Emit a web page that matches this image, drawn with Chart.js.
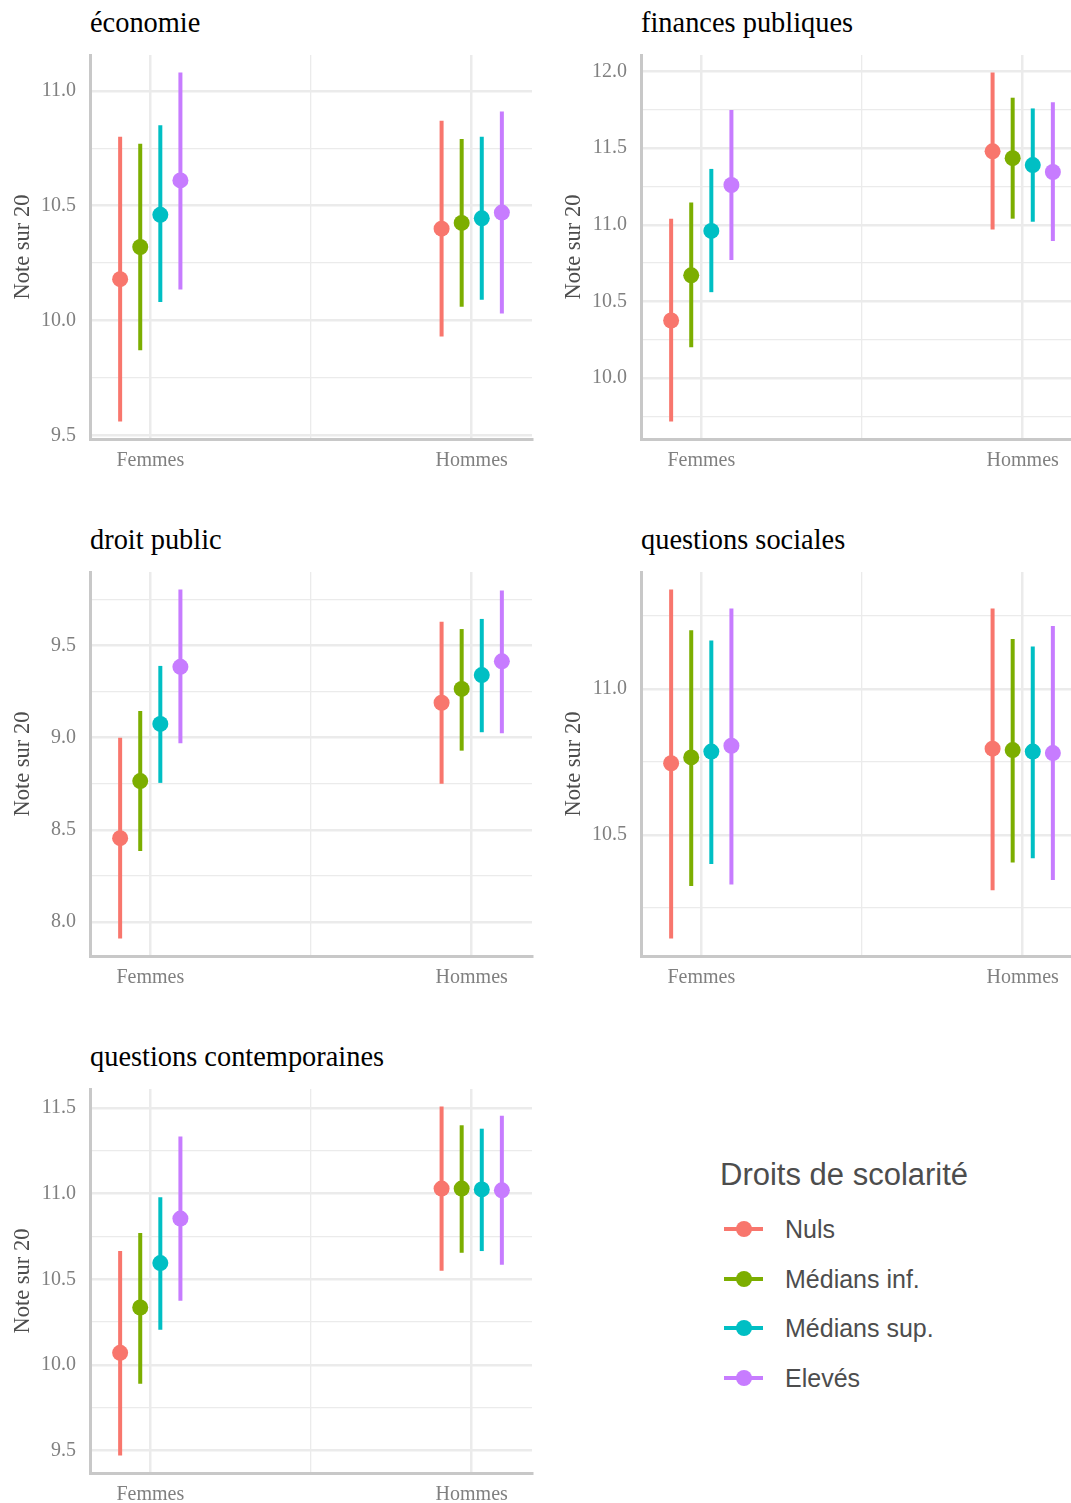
<!DOCTYPE html>
<html lang="fr">
<head>
<meta charset="utf-8">
<script src="https://cdn.jsdelivr.net/npm/chart.js@4.4.0/dist/chart.umd.min.js"></script>
<style>
  html, body { margin: 0; padding: 0; width: 1071px; height: 1503px; overflow: hidden; background: #fff; }
  .panneau { position: absolute; }
  .titre {
    position: absolute; font-family: 'Liberation Serif', 'Times New Roman', serif;
    font-size: 28.4px; line-height: 28px; color: #000; white-space: nowrap;
  }
  #legende { position: absolute; left: 0; top: 0; font-family: 'Liberation Sans', Arial, sans-serif; color: #4d4d4d; }
  #legende .leg-titre { position: absolute; left: 720px; top: 1160px; font-size: 31px; line-height: 30px; white-space: nowrap; }
  #legende .item { position: absolute; left: 724px; height: 32px; width: 300px; }
  #legende .trait { position: absolute; left: 0; top: 14px; width: 39px; height: 4px; }
  #legende .rond { position: absolute; left: 11.5px; top: 8px; width: 16px; height: 16px; border-radius: 50%; }
  #legende .lib { position: absolute; left: 61px; top: 0; font-size: 25px; line-height: 32px; white-space: nowrap; }
</style>
</head>
<body>
<div id="legende"></div>
<script>
/* groupes et niveaux */
const groupes = ['Femmes', 'Hommes'];
const niveaux = ['Nuls', 'Médians inf.', 'Médians sup.', 'Elevés'];
const matieres = ['économie', 'finances publiques', 'droit public', 'questions sociales', 'questions contemporaines'];

/* valeurs : [niveau][Femmes, Hommes] */
const economieMoy  = [[10.18, 10.40], [10.32, 10.425], [10.46, 10.445], [10.61, 10.47]];
const economieBas  = [[9.56, 9.93], [9.87, 10.06], [10.08, 10.09], [10.135, 10.03]];
const economieHaut = [[10.80, 10.87], [10.77, 10.79], [10.85, 10.80], [11.08, 10.91]];

const financesMoy  = [[10.375, 11.48], [10.67, 11.435], [10.96, 11.39], [11.26, 11.345]];
const financesBas  = [[9.715, 10.97], [10.20, 11.04], [10.56, 11.02], [10.77, 10.895]];
const financesHaut = [[11.04, 11.995], [11.145, 11.83], [11.365, 11.76], [11.75, 11.80]];

const droitMoy  = [[8.455, 9.19], [8.765, 9.265], [9.075, 9.34], [9.385, 9.415]];
const droitBas  = [[7.91, 8.75], [8.385, 8.93], [8.755, 9.03], [8.97, 9.025]];
const droitHaut = [[9.00, 9.63], [9.145, 9.59], [9.39, 9.645], [9.805, 9.80]];

const socialesMoy  = [[10.745, 10.795], [10.765, 10.79], [10.785, 10.785], [10.805, 10.78]];
const socialesBas  = [[10.145, 10.31], [10.325, 10.405], [10.40, 10.42], [10.33, 10.345]];
const socialesHaut = [[11.34, 11.275], [11.20, 11.17], [11.165, 11.145], [11.275, 11.215]];

const contempMoy  = [[10.07, 11.03], [10.335, 11.03], [10.595, 11.025], [10.855, 11.02]];
const contempBas  = [[9.47, 10.55], [9.89, 10.655], [10.205, 10.665], [10.375, 10.585]];
const contempHaut = [[10.665, 11.51], [10.77, 11.40], [10.98, 11.38], [11.335, 11.455]];

const series = [
  [economieMoy, economieBas, economieHaut],
  [financesMoy, financesBas, financesHaut],
  [droitMoy, droitBas, droitHaut],
  [socialesMoy, socialesBas, socialesHaut],
  [contempMoy, contempBas, contempHaut]
];

/* style */
const couleurs = ['#F8766D', '#7CAE00', '#00BFC4', '#C77CFF'];
const serif = "'Liberation Serif', 'Times New Roman', serif";
const dodge = 0.25;                  // comme position_dodge(0.25)
const pas = dodge / niveaux.length;

/* position des panneaux (coin haut-gauche de la zone de tracé) */
const places = [
  { left: 90, top: 55 }, { left: 641, top: 55 },
  { left: 90, top: 572 }, { left: 641, top: 572 },
  { left: 90, top: 1089 }
];

/* x : étendue des points décalés + 5% */
const xBas = 1 - dodge / 2, xHaut = groupes.length + dodge / 2;
const xMin = xBas - 0.05 * (xHaut - xBas);
const xMax = xHaut + 0.05 * (xHaut - xBas);

const estMajeur = v => Math.abs(v * 2 - Math.round(v * 2)) < 1e-6;

matieres.forEach((nom, m) => {
  const [moy, bas, haut] = series[m];
  const p = places[m];

  const titre = document.createElement('div');
  titre.className = 'titre';
  titre.textContent = nom;
  titre.style.left = p.left + 'px';
  titre.style.top = (p.top - 46) + 'px';
  document.body.appendChild(titre);

  const boite = document.createElement('div');
  boite.className = 'panneau';
  boite.style.left = (p.left - 90) + 'px';
  boite.style.top = (p.top - 14) + 'px';
  const cv = document.createElement('canvas');
  cv.width = 540; cv.height = 448;
  boite.appendChild(cv);
  document.body.appendChild(boite);

  const tous = bas.flat().concat(haut.flat());
  const yMin0 = Math.min(...tous), yMax0 = Math.max(...tous);
  const marge = 0.05 * (yMax0 - yMin0);

  const datasets = [];
  niveaux.forEach((niv, k) => {
    datasets.push({
      type: 'bar',
      label: niv,
      data: groupes.map((g, i) => ({ x: i + 1 + (k - 1.5) * pas, y: [bas[k][i], haut[k][i]] })),
      backgroundColor: couleurs[k],
      borderWidth: 0,
      grouped: false,
      maxBarThickness: 4,
      order: 1
    });
  });
  niveaux.forEach((niv, k) => {
    datasets.push({
      type: 'scatter',
      label: niv,
      data: groupes.map((g, i) => ({ x: i + 1 + (k - 1.5) * pas, y: moy[k][i] })),
      pointRadius: 8,
      pointBackgroundColor: couleurs[k],
      pointBorderWidth: 0,
      showLine: false,
      order: 0
    });
  });

  new Chart(cv.getContext('2d'), {
    type: 'scatter',
    data: { datasets },
    options: {
      responsive: false,
      animation: false,
      layout: { padding: { top: 14, right: 5, left: 0, bottom: 0 } },
      plugins: { legend: { display: false }, tooltip: { enabled: false } },
      scales: {
        x: {
          type: 'linear', min: xMin, max: xMax, offset: false,
          afterBuildTicks: s => { s.ticks = [{ value: 1 }, { value: 1.5 }, { value: 2 }]; },
          afterFit: s => { s.height = 50; s.paddingLeft = 0; s.paddingRight = 0; },
          grid: { color: '#EBEBEB', offset: false, drawTicks: false, lineWidth: c => (c.tick && c.tick.value === 1.5 ? 1.3 : 2.5) },
          border: { display: true, color: '#C8C8C8', width: 3 },
          ticks: {
            padding: 10, autoSkip: false, maxRotation: 0, color: '#808080',
            font: { family: serif, size: 20 },
            callback: v => (v === 1 ? groupes[0] : v === 2 ? groupes[1] : '')
          }
        },
        y: {
          type: 'linear', min: yMin0 - marge, max: yMax0 + marge, beginAtZero: false,
          afterFit: s => { s.width = 90; s.paddingTop = 0; s.paddingBottom = 0; },
          grid: { color: '#EBEBEB', drawTicks: false, lineWidth: c => (c.tick && estMajeur(c.tick.value) ? 2.5 : 1.3) },
          border: { display: true, color: '#C8C8C8', width: 3 },
          ticks: {
            stepSize: 0.25, includeBounds: false, autoSkip: false, padding: 14, color: '#808080',
            font: { family: serif, size: 20 },
            callback: v => (estMajeur(v) ? v.toFixed(1) : '')
          },
          title: {
            display: true, text: 'Note sur 20', color: '#4d4d4d',
            font: { family: serif, size: 22.5 }, padding: { top: 10, bottom: 0 }
          }
        }
      }
    }
  });
});

/* légende */
const leg = document.getElementById('legende');
const lt = document.createElement('div');
lt.className = 'leg-titre';
lt.textContent = 'Droits de scolarité';
leg.appendChild(lt);
niveaux.forEach((niv, k) => {
  const it = document.createElement('div');
  it.className = 'item';
  it.style.top = (1229 + k * 49.5 - 16) + 'px';
  it.innerHTML = '<div class="trait"></div><div class="rond"></div><div class="lib"></div>';
  it.querySelector('.trait').style.background = couleurs[k];
  it.querySelector('.rond').style.background = couleurs[k];
  it.querySelector('.lib').textContent = niv;
  leg.appendChild(it);
});
</script>
</body>
</html>
